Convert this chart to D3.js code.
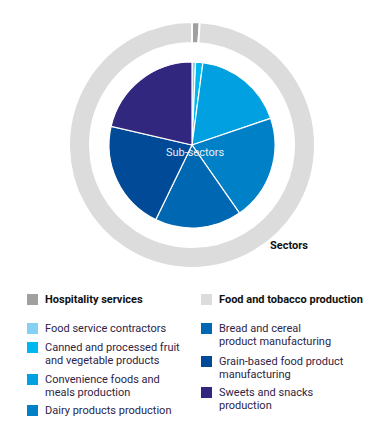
<!DOCTYPE html>
<html>
<head>
<meta charset="utf-8">
<script src="https://cdn.jsdelivr.net/npm/d3@7"></script>
<style>
  body { margin: 0; background: #fff; }
  svg { display: block; font-family: Roboto, "Open Sans", sans-serif; }
  .legend-text { font-size: 11px; fill: #2e2446; }
  .legend-head { font-size: 11px; font-weight: bold; fill: #111; }
</style>
</head>
<body>
<div id="canvas"></div>
<script>
// outer ring: sectors (share, %)
const sectors = ["Hospitality services", "Food and tobacco production"];
const sectorValues = [1.0, 99.0];
const sectorColors = ["#a0a0a0", "#dcdcdc"];

// inner pie: sub-sectors (share, %), clockwise from 12 o'clock
const subSectors = [
    "Food service contractors",
    "Canned and processed fruit\nand vegetable products",
    "Convenience foods and\nmeals production",
    "Dairy products production",
    "Bread and cereal\nproduct manufacturing",
    "Grain-based food product\nmanufacturing",
    "Sweets and snacks\nproduction"
];
const subSectorValues = [0.7, 1.4, 17.7, 20.5, 16.9, 21.4, 21.4];
const subSectorColors = ["#85d0f5", "#00b8f0", "#00a0e1", "#0080c6", "#0068b2", "#004a97", "#32277e"];

const width = 385, height = 433;
const cx = 192, cy = 145;

const svg = d3.select("#canvas")
    .append("svg")
    .attr("width", width)
    .attr("height", height);

const chart = svg.append("g")
    .attr("transform", "translate(" + cx + "," + cy + ")");

const pie = d3.pie().sort(null).value(d => d);

// outer ring
const ringArc = d3.arc().innerRadius(102).outerRadius(123);
chart.append("g")
    .selectAll("path")
    .data(pie(sectorValues))
    .enter()
    .append("path")
    .attr("d", ringArc)
    .style("fill", (d, i) => sectorColors[i])
    .style("stroke", "#fff")
    .style("stroke-width", 2);

// inner pie
const pieArc = d3.arc().innerRadius(0).outerRadius(83);
chart.append("g")
    .selectAll("path")
    .data(pie(subSectorValues))
    .enter()
    .append("path")
    .attr("d", pieArc)
    .style("fill", (d, i) => subSectorColors[i])
    .style("stroke", "#fff")
    .style("stroke-width", 1.2);

chart.append("text")
    .attr("x", 3)
    .attr("y", 11)
    .attr("text-anchor", "middle")
    .style("font-size", "11px")
    .style("fill", "#e8eef6")
    .text("Sub-sectors");

chart.append("text")
    .attr("x", 78)
    .attr("y", 104)
    .style("font-size", "11px")
    .style("font-weight", "bold")
    .style("fill", "#111")
    .text("Sectors");

// legend
const legend = svg.append("g");
const colX = [27, 201];

// sector headings
sectors.forEach((s, i) => {
    legend.append("rect")
        .attr("x", colX[i]).attr("y", 294)
        .attr("width", 11).attr("height", 11)
        .style("fill", sectorColors[i]);
    legend.append("text")
        .attr("class", "legend-head")
        .attr("x", colX[i] + 18).attr("y", 303)
        .text(s);
});

// sub-sector items: first four left, rest right
const rowY = [332, 351, 383, 414, 332, 365, 396];
subSectors.forEach((s, i) => {
    const x = colX[i < 4 ? 0 : 1];
    legend.append("rect")
        .attr("x", x).attr("y", rowY[i] - 9)
        .attr("width", 11).attr("height", 11)
        .style("fill", subSectorColors[i]);
    const t = legend.append("text")
        .attr("class", "legend-text")
        .attr("x", x + 18).attr("y", rowY[i]);
    s.split("\n").forEach((line, j) => {
        t.append("tspan")
            .attr("x", x + 18)
            .attr("dy", j === 0 ? 0 : 13)
            .text(line);
    });
});
</script>
</body>
</html>
